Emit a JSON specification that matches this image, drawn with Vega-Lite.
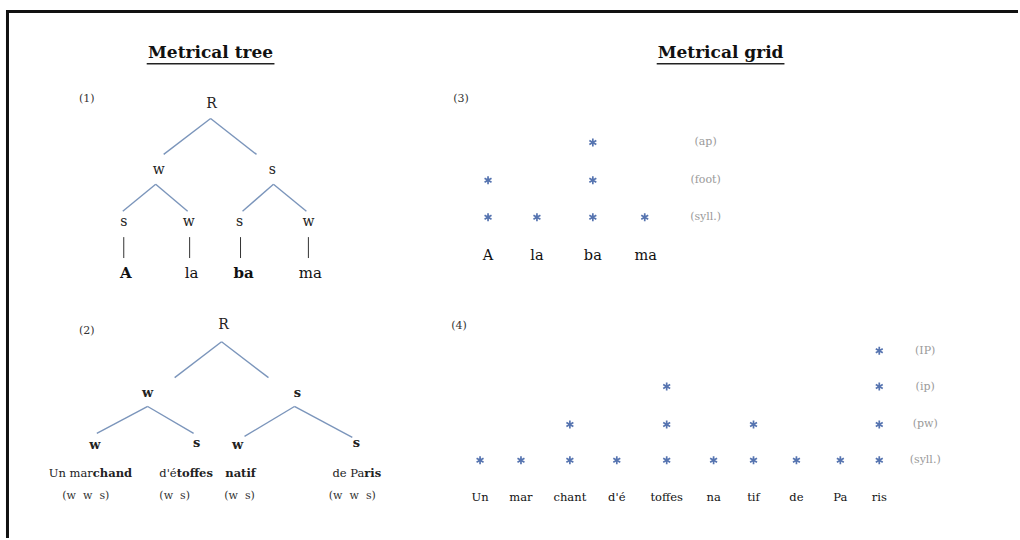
{
  "$schema": "https://vega.github.io/schema/vega-lite/v6.json",
  "width": 1020,
  "height": 540,
  "padding": 0,
  "autosize": {"type": "fit", "contains": "padding"},
  "background": "white",
  "config": {"view": {"stroke": null}, "text": {"font": "DejaVu Serif", "baseline": "middle"}},
  "encoding": {
    "x": {"field": "x", "type": "quantitative", "scale": {"domain": [0, 1020], "nice": false, "zero": false}, "axis": null},
    "y": {"field": "y", "type": "quantitative", "scale": {"domain": [0, 540], "nice": false, "zero": false, "reverse": true}, "axis": null}
  },
  "layer": [
    {
      "data": {"values": [
        {"x": 7, "y": 11.5, "x2": 1020, "y2": 11.5},
        {"x": 7.5, "y": 10, "x2": 7.5, "y2": 540}
      ]},
      "mark": {"type": "rule", "color": "#111", "strokeWidth": 3},
      "encoding": {"x2": {"field": "x2"}, "y2": {"field": "y2"}}
    },
    {
      "data": {"values": [
        {"x": 147, "y": 64, "x2": 275, "y2": 64},
        {"x": 658, "y": 64, "x2": 786, "y2": 64}
      ]},
      "mark": {"type": "rule", "color": "#222", "strokeWidth": 1.3},
      "encoding": {"x2": {"field": "x2"}, "y2": {"field": "y2"}}
    },
    {
      "data": {"values": [
        {"x": 211, "y": 119, "x2": 164, "y2": 155},
        {"x": 211, "y": 119, "x2": 257, "y2": 155},
        {"x": 156, "y": 185, "x2": 123, "y2": 212},
        {"x": 156, "y": 185, "x2": 188, "y2": 212},
        {"x": 274, "y": 185, "x2": 243, "y2": 212},
        {"x": 274, "y": 185, "x2": 307, "y2": 212},
        {"x": 222, "y": 343, "x2": 175, "y2": 379},
        {"x": 222, "y": 343, "x2": 269, "y2": 379},
        {"x": 148, "y": 408, "x2": 97, "y2": 435},
        {"x": 148, "y": 408, "x2": 194, "y2": 435},
        {"x": 295, "y": 408, "x2": 245, "y2": 438},
        {"x": 295, "y": 408, "x2": 353, "y2": 439}
      ]},
      "mark": {"type": "rule", "color": "#7b95bb", "strokeWidth": 1.4},
      "encoding": {"x2": {"field": "x2"}, "y2": {"field": "y2"}}
    },
    {
      "data": {"values": [
        {"x": 124, "y": 238, "x2": 124, "y2": 259},
        {"x": 190, "y": 238, "x2": 190, "y2": 259},
        {"x": 241, "y": 238, "x2": 241, "y2": 259},
        {"x": 309, "y": 238, "x2": 309, "y2": 259}
      ]},
      "mark": {"type": "rule", "color": "#333", "strokeWidth": 1},
      "encoding": {"x2": {"field": "x2"}, "y2": {"field": "y2"}}
    },
    {
      "data": {"values": [
        {"x": 211, "y": 53, "t": "Metrical tree"},
        {"x": 722, "y": 53, "t": "Metrical grid"}
      ]},
      "mark": {"type": "text", "fontSize": 17, "fontWeight": "bold", "color": "#111", "align": "center"},
      "encoding": {"text": {"field": "t"}}
    },
    {
      "data": {"values": [
        {"x": 87, "y": 99, "t": "(1)"},
        {"x": 87, "y": 332, "t": "(2)"},
        {"x": 462, "y": 99, "t": "(3)"},
        {"x": 460, "y": 327, "t": "(4)"}
      ]},
      "mark": {"type": "text", "fontSize": 11, "color": "#333", "align": "center"},
      "encoding": {"text": {"field": "t"}}
    },
    {
      "data": {"values": [
        {"x": 212, "y": 104, "t": "R"},
        {"x": 159, "y": 171, "t": "w"},
        {"x": 273, "y": 171, "t": "s"},
        {"x": 124, "y": 223, "t": "s"},
        {"x": 189, "y": 223, "t": "w"},
        {"x": 240, "y": 223, "t": "s"},
        {"x": 309, "y": 223, "t": "w"},
        {"x": 224, "y": 326, "t": "R"}
      ]},
      "mark": {"type": "text", "fontSize": 14, "color": "#222", "align": "center"},
      "encoding": {"text": {"field": "t"}}
    },
    {
      "data": {"values": [
        {"x": 148, "y": 394, "t": "w"},
        {"x": 298, "y": 394, "t": "s"},
        {"x": 95, "y": 447, "t": "w"},
        {"x": 197, "y": 445, "t": "s"},
        {"x": 238, "y": 447, "t": "w"},
        {"x": 357, "y": 445, "t": "s"}
      ]},
      "mark": {"type": "text", "fontSize": 13, "fontWeight": "bold", "color": "#222", "align": "center"},
      "encoding": {"text": {"field": "t"}}
    },
    {
      "data": {"values": [
        {"x": 192, "y": 274, "t": "la"},
        {"x": 311, "y": 274, "t": "ma"}
      ]},
      "mark": {"type": "text", "fontSize": 15, "color": "#111", "align": "center"},
      "encoding": {"text": {"field": "t"}}
    },
    {
      "data": {"values": [
        {"x": 126, "y": 274, "t": "A"},
        {"x": 244, "y": 274, "t": "ba"}
      ]},
      "mark": {"type": "text", "fontSize": 15, "fontWeight": "bold", "color": "#111", "align": "center"},
      "encoding": {"text": {"field": "t"}}
    },
    {
      "data": {"values": [
        {"x": 93, "y": 476, "t": "Un mar"},
        {"x": 177, "y": 476, "t": "d'é"},
        {"x": 365, "y": 476, "t": "de Pa"}
      ]},
      "mark": {"type": "text", "fontSize": 11.5, "color": "#222", "align": "right"},
      "encoding": {"text": {"field": "t"}}
    },
    {
      "data": {"values": [
        {"x": 93, "y": 476, "t": "chand"},
        {"x": 177, "y": 476, "t": "toffes"},
        {"x": 365, "y": 476, "t": "ris"}
      ]},
      "mark": {"type": "text", "fontSize": 11.5, "fontWeight": "bold", "color": "#222", "align": "left"},
      "encoding": {"text": {"field": "t"}}
    },
    {
      "data": {"values": [
        {"x": 241, "y": 476, "t": "natif"}
      ]},
      "mark": {"type": "text", "fontSize": 11.5, "fontWeight": "bold", "color": "#222", "align": "center"},
      "encoding": {"text": {"field": "t"}}
    },
    {
      "data": {"values": [
        {"x": 86, "y": 498, "t": "(w\u00a0\u00a0w\u00a0\u00a0s)"},
        {"x": 175, "y": 498, "t": "(w\u00a0\u00a0s)"},
        {"x": 240, "y": 498, "t": "(w\u00a0\u00a0s)"},
        {"x": 353, "y": 498, "t": "(w\u00a0\u00a0w\u00a0\u00a0s)"}
      ]},
      "mark": {"type": "text", "fontSize": 11, "color": "#333", "align": "center"},
      "encoding": {"text": {"field": "t"}}
    },
    {
      "data": {"values": [
        {"x": 489, "y": 218, "word": "A", "level": 1},
        {"x": 489, "y": 181, "word": "A", "level": 2},
        {"x": 538, "y": 218, "word": "la", "level": 1},
        {"x": 594, "y": 218, "word": "ba", "level": 1},
        {"x": 594, "y": 181, "word": "ba", "level": 2},
        {"x": 594, "y": 143, "word": "ba", "level": 3},
        {"x": 646, "y": 218, "word": "ma", "level": 1},
        {"x": 481, "y": 462, "word": "Un", "level": 1},
        {"x": 522, "y": 462, "word": "mar", "level": 1},
        {"x": 571, "y": 462, "word": "chant", "level": 1},
        {"x": 571, "y": 426, "word": "chant", "level": 2},
        {"x": 618, "y": 462, "word": "d'é", "level": 1},
        {"x": 668, "y": 462, "word": "toffes", "level": 1},
        {"x": 668, "y": 426, "word": "toffes", "level": 2},
        {"x": 668, "y": 388, "word": "toffes", "level": 3},
        {"x": 715, "y": 462, "word": "na", "level": 1},
        {"x": 755, "y": 462, "word": "tif", "level": 1},
        {"x": 755, "y": 426, "word": "tif", "level": 2},
        {"x": 798, "y": 462, "word": "de", "level": 1},
        {"x": 842, "y": 462, "word": "Pa", "level": 1},
        {"x": 881, "y": 462, "word": "ris", "level": 1},
        {"x": 881, "y": 426, "word": "ris", "level": 2},
        {"x": 881, "y": 388, "word": "ris", "level": 3},
        {"x": 881, "y": 352, "word": "ris", "level": 4}
      ]},
      "mark": {"type": "point", "shape": "M0,-1L0,1M-0.87,-0.5L0.87,0.5M-0.87,0.5L0.87,-0.5", "size": 64, "filled": false, "color": "#5674b0", "strokeWidth": 1.7, "opacity": 1}
    },
    {
      "data": {"values": [
        {"x": 707, "y": 143, "t": "(ap)"},
        {"x": 707, "y": 181, "t": "(foot)"},
        {"x": 707, "y": 218, "t": "(syll.)"},
        {"x": 927, "y": 352, "t": "(IP)"},
        {"x": 927, "y": 388, "t": "(ip)"},
        {"x": 927, "y": 426, "t": "(pw)"},
        {"x": 927, "y": 462, "t": "(syll.)"}
      ]},
      "mark": {"type": "text", "fontSize": 11, "color": "#9a9a9a", "align": "center"},
      "encoding": {"text": {"field": "t"}}
    },
    {
      "data": {"values": [
        {"x": 489, "y": 257, "t": "A"},
        {"x": 538, "y": 257, "t": "la"},
        {"x": 594, "y": 257, "t": "ba"},
        {"x": 647, "y": 257, "t": "ma"}
      ]},
      "mark": {"type": "text", "fontSize": 14.5, "color": "#111", "align": "center"},
      "encoding": {"text": {"field": "t"}}
    },
    {
      "data": {"values": [
        {"x": 481, "y": 500, "t": "Un"},
        {"x": 522, "y": 500, "t": "mar"},
        {"x": 571, "y": 500, "t": "chant"},
        {"x": 618, "y": 500, "t": "d'é"},
        {"x": 668, "y": 500, "t": "toffes"},
        {"x": 715, "y": 500, "t": "na"},
        {"x": 755, "y": 500, "t": "tif"},
        {"x": 798, "y": 500, "t": "de"},
        {"x": 842, "y": 500, "t": "Pa"},
        {"x": 881, "y": 500, "t": "ris"}
      ]},
      "mark": {"type": "text", "fontSize": 11.5, "color": "#111", "align": "center"},
      "encoding": {"text": {"field": "t"}}
    }
  ]
}
